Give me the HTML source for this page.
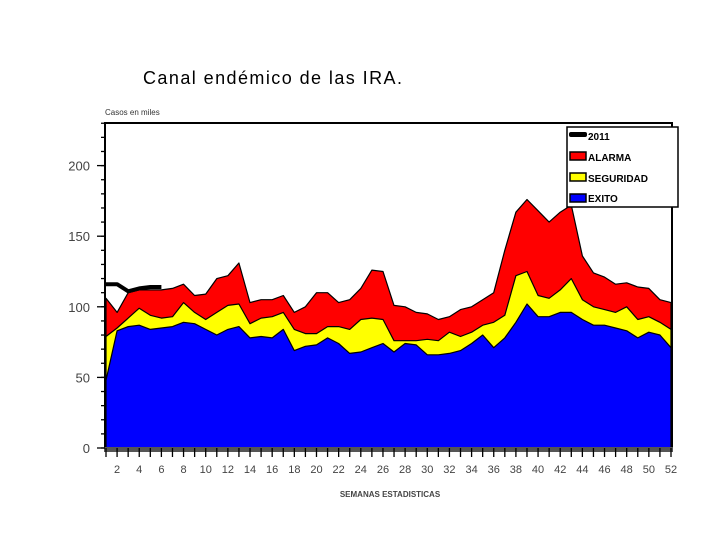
<!DOCTYPE html>
<html><head><meta charset="utf-8"><style>
body{margin:0;background:#fff;width:720px;height:540px;overflow:hidden;font-family:"Liberation Sans",sans-serif}
</style></head><body>
<svg id="chart" width="720" height="540" xmlns="http://www.w3.org/2000/svg">
<text x="143" y="84" font-size="18" textLength="259" lengthAdjust="spacing" font-family="Liberation Sans, sans-serif">Canal endémico de las IRA.</text>
<text x="105" y="115" font-size="8" fill="#333">Casos en miles</text>
<text x="390" y="497" font-size="8" font-weight="bold" fill="#444" text-anchor="middle">SEMANAS ESTADISTICAS</text>
<g id="plot"></g>
<g id="legend">
<rect x="567" y="127" width="111" height="80" fill="#fff" stroke="#000" stroke-width="1.5"/>
<g><rect x="569" y="132" width="18" height="5" rx="2" fill="#000"/><text x="588" y="140" font-size="10" font-weight="bold">2011</text></g>
<g><rect x="570" y="152" width="16" height="8" fill="#f00" stroke="#000" stroke-width="1.5"/><text x="588" y="161" font-size="10" font-weight="bold">ALARMA</text></g>
<g><rect x="570" y="173" width="16" height="8" fill="#ff0" stroke="#000" stroke-width="1.5"/><text x="588" y="182" font-size="10" font-weight="bold">SEGURIDAD</text></g>
<g><rect x="570" y="194" width="16" height="8" fill="#00f" stroke="#000" stroke-width="1.5"/><text x="588" y="202" font-size="10" font-weight="bold">EXITO</text></g>
</g>
</svg>
<script>
const weeks=[];for(let i=1;i<=52;i++)weeks.push(i);
const alarma=[106,96,110,112,112,112,113,116,108,109,120,122,131,103,105,105,108,96,100,110,110,103,105,113,126,125,101,100,96,95,91,93,98,100,105,110,140,167,176,168,160,167,172,136,124,121,116,117,114,113,105,103];
const seguridad=[79,85,92,99,94,92,93,103,96,91,96,101,102,88,92,93,96,84,81,81,86,86,84,91,92,91,76,76,76,77,76,82,79,82,87,89,94,122,125,108,106,112,120,105,100,98,96,100,91,93,89,84];
const exito=[48,83,86,87,84,85,86,89,88,84,80,84,86,78,79,78,84,69,72,73,78,74,67,68,71,74,68,74,73,66,66,67,69,74,80,71,78,89,102,93,93,96,96,91,87,87,85,83,78,82,80,71];
const y2011=[116,116,111,113,114,114];
const yTicks=[0,50,100,150,200];
const xTicks=[2,4,6,8,10,12,14,16,18,20,22,24,26,28,30,32,34,36,38,40,42,44,46,48,50,52];
const NS='http://www.w3.org/2000/svg';
const X0=106,X1=671,Y0=448,YS=70.6/50;
function xs(w){return X0+(w-1)*(X1-X0)/51;}
function ys(v){return Y0-v*YS;}
const g=document.getElementById('plot');
function mk(t,a){const e=document.createElementNS(NS,t);for(const k in a)e.setAttribute(k,a[k]);g.appendChild(e);return e;}
function area(arr,fill,name){
  let d='M'+xs(1)+','+Y0;
  arr.forEach((v,i)=>{d+=' L'+xs(weeks[i]).toFixed(1)+','+ys(v).toFixed(1);});
  d+=' L'+xs(52)+','+Y0+' Z';
  const p=mk('path',{d:d,fill:fill,stroke:'#000','stroke-width':1.2,'stroke-linejoin':'round'});
  
  
}
area(alarma,'#ff0000','alarma-area');
area(seguridad,'#ffff00','seguridad-area');
area(exito,'#0000ff','exito-area');
let d2='';y2011.forEach((v,i)=>{d2+=(i?' L':'M')+xs(weeks[i]).toFixed(1)+','+ys(v).toFixed(1);});
const ln=mk('path',{d:d2,fill:'none',stroke:'#000','stroke-width':4,'stroke-linejoin':'round'});


const fr=mk('path',{d:'M105,448 L105,123 L672,123 L672,448',fill:'none',stroke:'#000','stroke-width':2});


const band=mk('rect',{x:104,y:447,width:569,height:5,fill:'#555'});


weeks.forEach(w=>{mk('line',{x1:xs(w),x2:xs(w),y1:448,y2:457,stroke:'#000','stroke-width':1.3});});
for(let v=0;v<=230;v+=10){mk('line',{x1:101,x2:105,y1:ys(v),y2:ys(v),stroke:'#000','stroke-width':1.3});}
yTicks.forEach(v=>{
  mk('line',{x1:97,x2:105,y1:ys(v),y2:ys(v),stroke:'#000','stroke-width':1.3});
  const t=mk('text',{x:90,y:ys(v)+5,'font-size':13,'text-anchor':'end',fill:'#444'});
  t.textContent=v;
  
  
});
xTicks.forEach(w=>{
  const t=mk('text',{x:xs(w),y:473,'font-size':11,'text-anchor':'middle',fill:'#444'});
  t.textContent=w;
  
  
});
</script>
</body></html>
